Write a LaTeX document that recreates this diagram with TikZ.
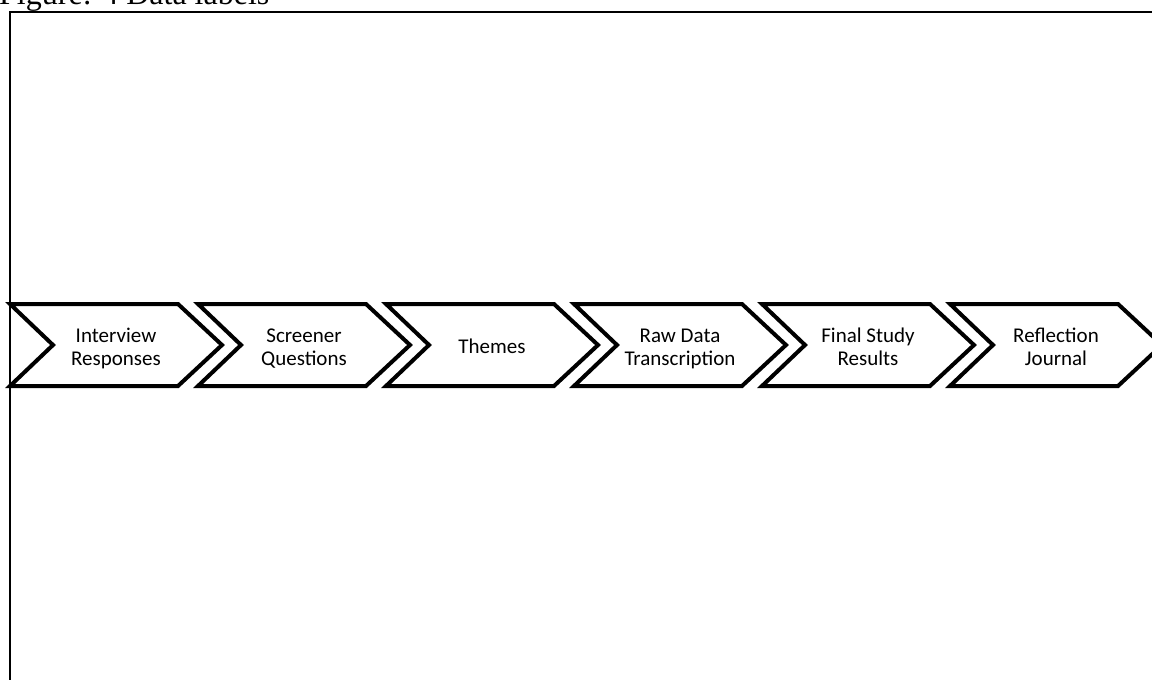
\documentclass[tikz,border=0pt]{standalone}
\usepackage{fontspec}
\setmainfont{Carlito}
\newfontfamily\titlefont{Liberation Serif}
\begin{document}
\begin{tikzpicture}[x=1pt,y=-1pt,
  chev/.style={draw=black,line width=4pt,fill=white,miter limit=10},
  lbl/.style={align=center,font=\fontsize{21}{23}\selectfont,inner sep=0pt},
  frame/.style={draw=black,line width=1.6pt}]
\useasboundingbox (0,0) rectangle (1152,680);
\clip (0,0) rectangle (1152,680);
\fill[white] (0,0) rectangle (1152,680);
\node[anchor=base west,inner sep=0pt,font=\titlefont\fontsize{32}{36}\selectfont] (title) at (-1,5) {Figure: 4 Data labels};
\draw[frame] (10,12) rectangle (1170,700);
\foreach \i/\t [count=\k] in {0/{\strut Interview\\\strut Responses},1/{\strut Screener\\\strut Questions},2/{\strut Themes},3/{\strut Raw Data\\\strut Transcription},4/{\strut Final Study\\\strut Results},5/{\strut Reflection\\\strut Journal}}{
  \pgfmathsetmacro{\xo}{10+188*\i}
  \draw[chev] (\xo,304) -- ++(168,0) -- ++(44,41) -- ++(-44,41) -- ++(-168,0) -- ++(43,-41) -- cycle;
  \node[lbl] (c\k) at (\xo+106,349) {\t};
}
\end{tikzpicture}
\end{document}
